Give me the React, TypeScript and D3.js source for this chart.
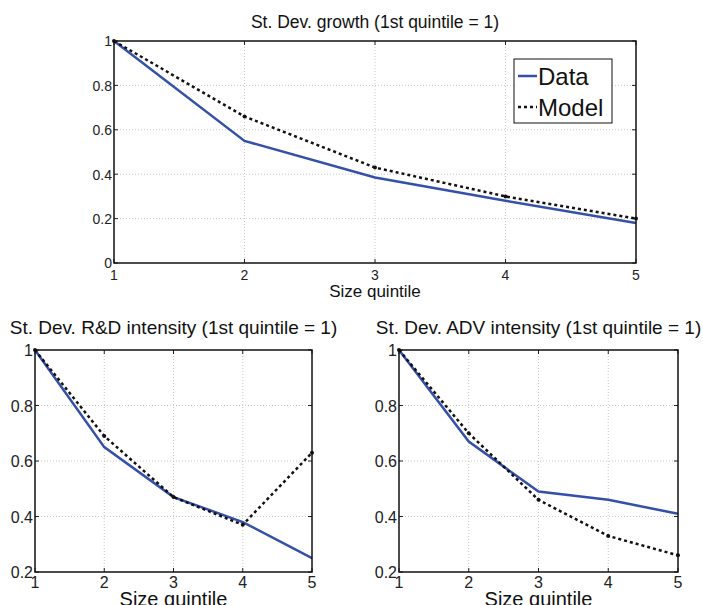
import { useRef, useEffect } from "react";
import * as d3 from "d3";

const quintiles = [1, 2, 3, 4, 5];

const growthData = [1, 0.55, 0.385, 0.28, 0.18];
const growthModel = [1, 0.66, 0.43, 0.3, 0.2];

const rdData = [1, 0.65, 0.47, 0.38, 0.25];
const rdModel = [1, 0.69, 0.47, 0.37, 0.63];

const advData = [1, 0.67, 0.49, 0.46, 0.41];
const advModel = [1, 0.7, 0.46, 0.33, 0.26];

const topTicks = [0, 0.2, 0.4, 0.6, 0.8, 1];
const bottomTicks = [0.2, 0.4, 0.6, 0.8, 1];

const BLUE = "#3550a8";
const FONT = "'Liberation Sans', Arial, Helvetica, sans-serif";

type Panel = {
  title: string;
  data: number[];
  model: number[];
  yTicks: number[];
  x0: number;
  x1: number;
  yTop: number;
  yBottom: number;
  titleY: number;
  titleSize: number;
  tickSize: number;
  labelSize: number;
  xTickDy: number;
  xLabelDy: number;
  legend: boolean;
};

const panels: Panel[] = [
  {
    title: "St. Dev. growth (1st quintile = 1)",
    data: growthData,
    model: growthModel,
    yTicks: topTicks,
    x0: 114,
    x1: 636,
    yTop: 41,
    yBottom: 263,
    titleY: 28,
    titleSize: 17.5,
    tickSize: 14,
    labelSize: 17,
    xTickDy: 17,
    xLabelDy: 34,
    legend: true,
  },
  {
    title: "St. Dev. R&D intensity (1st quintile = 1)",
    data: rdData,
    model: rdModel,
    yTicks: bottomTicks,
    x0: 35,
    x1: 312,
    yTop: 350,
    yBottom: 572,
    titleY: 334,
    titleSize: 19,
    tickSize: 16,
    labelSize: 20,
    xTickDy: 16,
    xLabelDy: 34,
    legend: false,
  },
  {
    title: "St. Dev. ADV intensity (1st quintile = 1)",
    data: advData,
    model: advModel,
    yTicks: bottomTicks,
    x0: 399,
    x1: 678,
    yTop: 350,
    yBottom: 572,
    titleY: 334,
    titleSize: 19,
    tickSize: 16,
    labelSize: 20,
    xTickDy: 16,
    xLabelDy: 34,
    legend: false,
  },
];

const App = () => {
  const svgRef = useRef<SVGSVGElement>(null);

  useEffect(() => {
    const svg = d3.select(svgRef.current);
    svg.selectAll("*").remove();

    panels.forEach((p) => {
      const x = d3.scaleLinear().domain([1, 5]).range([p.x0, p.x1]);
      const y = d3
        .scaleLinear()
        .domain([p.yTicks[0], 1])
        .range([p.yBottom, p.yTop]);
      const g = svg.append("g").attr("font-family", FONT);

      // dotted grid
      g.selectAll(".vgrid")
        .data(quintiles.slice(1, -1))
        .enter()
        .append("line")
        .attr("x1", (d) => x(d))
        .attr("x2", (d) => x(d))
        .attr("y1", p.yTop)
        .attr("y2", p.yBottom)
        .attr("stroke", "#bbb")
        .attr("stroke-width", 0.8)
        .attr("stroke-dasharray", "1,2");
      g.selectAll(".hgrid")
        .data(p.yTicks.slice(1, -1))
        .enter()
        .append("line")
        .attr("x1", p.x0)
        .attr("x2", p.x1)
        .attr("y1", (d) => y(d))
        .attr("y2", (d) => y(d))
        .attr("stroke", "#bbb")
        .attr("stroke-width", 0.8)
        .attr("stroke-dasharray", "1,2");

      // inward ticks
      quintiles.forEach((q) => {
        g.append("line")
          .attr("x1", x(q)).attr("x2", x(q))
          .attr("y1", p.yBottom).attr("y2", p.yBottom - 4)
          .attr("stroke", "#222");
        g.append("line")
          .attr("x1", x(q)).attr("x2", x(q))
          .attr("y1", p.yTop).attr("y2", p.yTop + 4)
          .attr("stroke", "#222");
      });
      p.yTicks.forEach((t) => {
        g.append("line")
          .attr("x1", p.x0).attr("x2", p.x0 + 4)
          .attr("y1", y(t)).attr("y2", y(t))
          .attr("stroke", "#222");
        g.append("line")
          .attr("x1", p.x1).attr("x2", p.x1 - 4)
          .attr("y1", y(t)).attr("y2", y(t))
          .attr("stroke", "#222");
      });

      const line = d3
        .line<number>()
        .x((_, i) => x(quintiles[i]))
        .y((d) => y(d));

      g.append("path")
        .datum(p.data)
        .attr("d", line)
        .attr("fill", "none")
        .attr("stroke", BLUE)
        .attr("stroke-width", 2.5);

      g.append("path")
        .datum(p.model)
        .attr("d", line)
        .attr("fill", "none")
        .attr("stroke", "#111")
        .attr("stroke-width", 2.5)
        .attr("stroke-dasharray", "3,3");

      g.selectAll(".pt")
        .data(p.model)
        .enter()
        .append("circle")
        .attr("cx", (_, i) => x(quintiles[i]))
        .attr("cy", (d) => y(d))
        .attr("r", 2)
        .attr("fill", "#111");

      g.append("rect")
        .attr("x", p.x0)
        .attr("y", p.yTop)
        .attr("width", p.x1 - p.x0)
        .attr("height", p.yBottom - p.yTop)
        .attr("fill", "none")
        .attr("stroke", "#111")
        .attr("stroke-width", 1.5);

      g.selectAll(".xl")
        .data(quintiles)
        .enter()
        .append("text")
        .attr("x", (d) => x(d))
        .attr("y", p.yBottom + p.xTickDy)
        .attr("text-anchor", "middle")
        .attr("font-size", p.tickSize)
        .attr("fill", "#222")
        .text((d) => d);
      g.selectAll(".yl")
        .data(p.yTicks)
        .enter()
        .append("text")
        .attr("x", p.x0 - 2)
        .attr("y", (d) => y(d) + p.tickSize * 0.38)
        .attr("text-anchor", "end")
        .attr("font-size", p.tickSize)
        .attr("fill", "#222")
        .text((d) => d3.format("~g")(d));

      g.append("text")
        .attr("x", (p.x0 + p.x1) / 2)
        .attr("y", p.yBottom + p.xLabelDy)
        .attr("text-anchor", "middle")
        .attr("font-size", p.labelSize)
        .attr("fill", "#111")
        .text("Size quintile");

      g.append("text")
        .attr("x", (p.x0 + p.x1) / 2)
        .attr("y", p.titleY)
        .attr("text-anchor", "middle")
        .attr("font-size", p.titleSize)
        .attr("fill", "#111")
        .text(p.title);

      if (p.legend) {
        const lx = 514;
        const ly = 59;
        g.append("rect")
          .attr("x", lx)
          .attr("y", ly)
          .attr("width", 98)
          .attr("height", 64)
          .attr("fill", "white")
          .attr("stroke", "#111")
          .attr("stroke-width", 1);
        const items = [
          { label: "Data", color: BLUE, dash: null as string | null },
          { label: "Model", color: "#111", dash: "3,3" },
        ];
        items.forEach((it, i) => {
          const cy = ly + 17 + i * 31;
          const l = g
            .append("line")
            .attr("x1", lx + 4)
            .attr("x2", lx + 23)
            .attr("y1", cy)
            .attr("y2", cy)
            .attr("stroke", it.color)
            .attr("stroke-width", 2.5);
          if (it.dash) l.attr("stroke-dasharray", it.dash);
          g.append("text")
            .attr("x", lx + 24)
            .attr("y", cy + 9)
            .attr("font-size", 24)
            .attr("fill", "#111")
            .text(it.label);
        });
      }
    });
  }, []);

  return (
    <svg
      ref={svgRef}
      width={703}
      height={605}
      style={{ position: "absolute", left: 0, top: 0, background: "white" }}
    />
  );
};

export default App;
